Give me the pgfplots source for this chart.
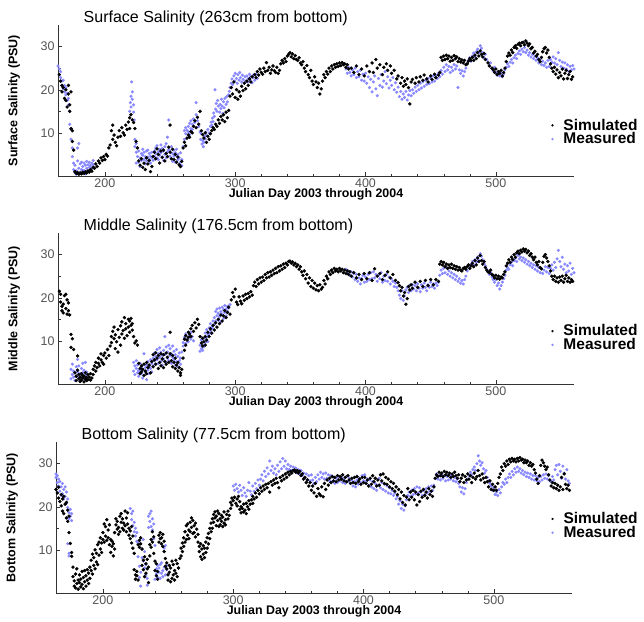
\documentclass[border=0pt]{standalone}
\usepackage{fontspec}
\setmainfont{Liberation Sans}
\usepackage{pgfplots}
\pgfplotsset{compat=1.18}
\definecolor{meas}{RGB}{136,136,255}
\definecolor{ticklab}{RGB}{85,85,85}

\pgfplotsset{salt/.style={
  scale only axis, width=516pt, height=151pt,
  xmin=164, xmax=560, ymin=0, ymax=35,
  axis lines*=left, axis line style={-, draw=black!80},
  xtick={200,300,400,500}, minor x tick num=4,
  ytick={10,20,30}, minor y tick num=1,
  tick align=inside, major tick length=4pt, minor tick length=2.5pt,
  every tick/.style={black!80},
  /pgf/number format/assume math mode=true,
  ticklabel style={font=\fontsize{12.5}{12.5}\selectfont, text=ticklab},
  xticklabel style={yshift=1pt},
  xlabel={Julian Day 2003 through 2004},
  xlabel style={font=\bfseries\fontsize{12.4}{12.4}\selectfont, at={(axis description cs:0.5,0)}, anchor=center, yshift=-18pt},
  ylabel style={font=\bfseries\fontsize{12.5}{12.5}\selectfont, at={(axis description cs:-0.085,0.5)}, anchor=center},
  legend style={draw=none, fill=none, font=\bfseries\fontsize{15.5}{15.5}\selectfont, anchor=west, row sep=-3pt, inner sep=0pt},
  legend cell align=left,
  legend image code/.code={\draw[#1, mark size=0.9pt] plot coordinates {(0pt,0pt)}; \path[draw=none,fill=none] (-1pt,-1pt) rectangle (9pt,1pt);},
  reverse legend,
  clip=false,
}}
\tikzset{ttl/.style={anchor=base west, font=\fontsize{16}{16}\selectfont, yshift=3pt}}

\begin{document}
\begin{tikzpicture}
\useasboundingbox (0,0) rectangle (644pt,-621pt);

% ---------- surface ----------
\begin{axis}[salt, at={(58pt,-176pt)}, anchor=south west,
  ylabel={Surface Salinity (PSU)},
  legend style={at={(rel axis cs:0.956,0.29)}}]
\addplot[only marks, mark=*, mark size=1.35pt, color=meas] coordinates {
(164,25.5)(165,24.8)(165,23.5)(166,24.2)(166,22.8)(167,22)(167,21)(168,20.2)(168,22.2)(169,19.5)(169,21)(170,18.8)(170,20.5)(171,19.2)(171,17.5)(172,18)(172,16.5)(173,15)(173,12)(174,10.8)(174,8.5)(175,6.5)(175,4.5)(176,3)(176,1.5)(177,0.8)(177,2.5)(178,1.2)(178,0.4)(179,3.5)(179,6.5)(180,1.8)(180,7.5)(181,0.9)(181,2.8)(182,1.5)(182,3.2)(183,0.7)(183,2.2)(184,1.3)(184,3)(185,0.5)(185,2.5)(186,1.8)(186,3.4)(187,1.1)(187,2.6)(188,2)(188,3.2)(189,1.4)(189,2.4)(190,3)(190,1.8)(191,2.6)(191,3.6)
(219,15)(219.5,17)(220,18.5)(220,16)(220.5,21.8)(221,19.5)(221,17.8)(222,16.5)(222,14.8)(222.5,13)(223,8.5)(223,6.8)(224,5.5)(224,7.5)(224,3)
(225,4.5)(226,3.2)(226,5.8)(227,4.2)(227,2.2)(228,5.2)(228,3.6)(229,4.8)(229,6.2)(230,3.8)(230,5.5)(231,4.5)(231,2.8)(232,5.8)(232,3.5)(233,4.4)(233,6)(234,3.8)(234,5.2)(235,4.6)(235,3)(236,5.5)(236,4.2)(237,3.6)
(238,5.8)(238,4.6)(239,6.5)(239,5.2)(240,4.2)(240,7)(241,5.6)(241,3.8)(242,6.2)(242,4.8)(243,5.4)(243,7.2)(244,4.4)(244,6.4)(245,5.8)(245,3.6)(246,6.8)(246,5)(247,4.2)(247,7.5)(248,5.6)(248,9)(249,13)(249,6.2)(250,4.6)(250,5.8)(251,6.8)(251,4)(252,5.2)(252,3.4)(253,6)(253,4.6)(254,5.4)(254,3.2)(255,4.8)(255,6.2)(256,3.8)(256,5)(257,4.2)(257,2.6)(258,3.2)(258,5.4)(259,2.4)(259,3.8)
(260,6.8)(261,8.5)(261,10.5)(262,9.8)(262,11.2)(263,10.6)(263,8.8)(264,11.5)(264,10.2)(265,12.2)(265,9.6)(266,11)(266,12.8)(267,10.8)(267,12)(268,11.6)(268,13.2)(269,12.4)(270,17)(270,14.2)(271,12.8)(272,11.5)(273,10.2)
(273.5,8.5)(274,9.8)(274.5,7.4)(275,8.2)(275.5,6.8)(276,7.8)(276.5,9.2)(277,8.6)(277.5,10.2)(278,9.4)(279,10.8)(280,10)(281,11.5)
(281.5,12.5)(282,11.8)(282.5,13.4)(283,12.6)(283.5,14.6)(284,13.8)(284.5,20)(285,15.5)(285.5,16.8)(286,15)(286.5,17.5)(287,16.2)(288,14.8)(288.5,16.6)(289,15.6)(289.5,17.8)(290,16.2)(290.5,14.5)(291,17.2)(291.5,15.8)(292,18)(293,16.6)(293.5,18.4)(294,17.2)(295,18.8)(295.5,19.6)(296,20.5)
(297,21.5)(297.5,22.5)(298,21.2)(299,23.2)(299.5,22)(300,23.8)(301,22.6)(301.5,21.5)(302,23.5)(303,22.2)(303.5,24)(304,22.8)(305,21.8)(305.5,23.4)(306,22.4)(307,21.6)(307.5,23)(308,22)(309,23.2)(309.5,21.8)(310,22.6)(311,23.6)(311.5,22.2)(312,23)(313,21.6)(313.5,22.8)(314,23.4)(315,22.2)(316,23.6)(317,22.6)
(385,24.8)(386,23.8)(387,25.2)(388,24)(389,23.2)(390,24.6)(391,23.5)(392,25)(393,22.8)(394,24.2)(395,23)(396,24.5)(397,22.2)(398,23.6)(399,22)(400,23.8)(401,21.5)(402,23)(403,20.5)(404,22.4)(405,19.5)(406,21.8)(407,23.2)(408,20.2)(409,18.6)(410,22.6)(411,21)(412,23.5)(413,20.6)(414,22)(415,24.2)(416,21.4)(417,23)(418,20.4)(419,22.2)(420,21)(421,22.8)(422,20)(423,21.6)(424,19.4)(425,20.6)
(426,18.4)(427,19.6)(428,17.8)(429,19)(430,18.2)(431,19.6)(432,17.6)(433,18.8)(434,19.8)(435,18.6)(436,20)
(437,19.2)(438,20.6)(439,19.6)(440,21)(441,20)(442,21.5)(443,20.4)(444,21.8)(445,20.8)(446,22.2)(447,21.2)(448,22.6)(449,21.4)(450,22.8)(451,21.8)(452,23.2)(453,22)(454,23.4)(455,22.6)(456,23.8)(457,23)
(458,24.5)(459,23.6)(460,25.2)(461,24.2)(462,25.8)(463,24.6)(464,25.4)(465,24)(466,25.2)(467,24.4)(468,25.8)(469,24.8)(470,25.5)(471,20.5)(472,24.6)(473,23.8)(474,24.4)(475,23.2)(476,24.2)(477,25)
(478,26)(479,26.8)(480,27.4)(481,26.6)(482,27.8)(483,28.5)(484,27.6)(485,28.8)(486,29.4)(487,28.6)(488,30.2)(489,29.6)(490,28.6)(491,27.4)(492,28.2)
(493,27)(494,26.4)(495,25.6)(496,26.2)(497,25)(498,24.4)(499,25.2)(500,24)(501,23.4)(502,24.2)(503,23.2)(504,23.8)(505,23)(506,23.6)(507,24.6)
(508,25.2)(509,26)(510,25.4)(511,26.4)(512,27)(513,26.2)(514,27.4)(515,28)(516,27.2)(517,28.4)(518,29)(519,28.2)(520,29.4)(521,28.8)(522,29.8)(523,28.6)(524,29.2)(525,28)(526,28.6)(527,27.6)(528,28.2)(529,27.2)
(530,27.8)(531,26.8)(532,27.4)(533,26.2)(534,27)(535,25.8)(536,26.6)(537,25.6)(538,26.2)(539,25.2)(540,26.8)(541,25.4)(542,27)(543,26.4)(544,27.6)(545,26.2)(546,27.2)(547,25.8)(548,28.6)(549,26.8)(550,25.4)(551,26.4)(552,25)(553,26.2)(554,24.8)(555,25.8)(556,24.2)(557,25.4)(558,24.6)(559,25.6)(560,24.8)
};
\addlegendentry{Measured}
\addplot[only marks, mark=*, mark size=1.5pt, color=black] coordinates {
(165,23.5)(166,22)(167,21)(167,19.5)(168,20.5)(169,18)(170,17.5)(170,20)(171,16)(172,21)(172,19)(173,16.5)(173,15)(174,19.5)(174,11)(175,10.5)(175,8)(176,6)
(177,1)(178,0.6)(179,0.8)(180,0.4)(181,0.7)(182,0.5)(183,0.9)(184,0.6)(185,1)(186,0.7)(187,1.2)(188,0.9)(189,1.5)(190,1.1)(191,2)(192,1.8)(193,2.8)(194,2.2)(195,3.5)(196,3)(197,4.2)(198,3.6)(199,4.5)(200,3.8)(201,5)(202,4.6)(203,6.5)(204,7.2)(205,10.5)(206,11.8)(206,8.5)(207,9.5)(208,7.8)(209,7)(210,9)(211,10.5)(212,9.2)(213,11.2)(214,10)(215,9.5)(216,11.8)(217,10.8)(218,12.5)(219,11)(219,13.5)(220,14.2)(221,13)(222,12.4)(223,11)(224,8)(225,6.5)
(226,3.5)(227,2.5)(228,4)(229,2)(230,3)(231,1.5)(232,4.2)(233,2.8)(234,3.6)(235,1)(236,2.2)(237,4.5)
(238,5.5)(239,4)(240,6.3)(241,5)(242,3)(243,5.8)(244,4.3)(245,6)(246,3.5)(247,5.2)(248,4.5)(249,6.7)(250,11.8)(250,5.5)(251,4)(252,6.2)(253,3.8)(254,5)(255,3.2)(256,4.4)(257,2.6)(258,2.2)(259,3.4)
(260,6.5)(261,7.8)(262,7)(263,8.8)(264,9.5)(265,9)(266,10.3)(267,10)(268,11.5)(269,12.8)(270,11.2)(271,13.6)(272,12)(273,15)
(274,10.5)(275,9.6)(276,8.8)(277,10)(278,7.8)(279,9.2)(280,8.5)(281,9.8)
(282,10.5)(283,11.2)(284,10.8)(285,12)(286,11.5)(287,13)(288,12.2)(289,13.8)(290,13)(291,14.2)(292,12.6)(293,14.8)(294,13.5)(295,15.2)(296,18.5)
(297,20.5)(298,19)(299,21.8)(300,18.2)(301,20)(302,17.8)(303,19.5)(304,18.5)(305,20.8)(306,19.8)(307,21.5)(308,20.2)(309,22)(310,21)(311,22.5)(312,21.8)(313,23)
(315,23.5)(316,22.8)(317,24.2)(318,23.4)(319,24.8)(320,24)(321,23.6)(322,25)(323,24.2)(324,26.3)(325,24.5)(326,25.2)(327,23.8)(328,24.6)(329,25.5)(330,24.4)(331,24)(332,25.2)(333,23.8)(334,24.5)(335,26)(336,26.8)(337,26.2)
(338,27.2)(339,26.5)(340,27.8)(341,28.2)(342,28.6)(343,27.6)(344,28.3)(345,27.2)(346,27.9)(347,27)(348,26.8)(349,27.4)(350,26.2)
(351,25.8)(352,26.5)(353,25)(354,24.2)(355,25.6)(356,23.5)(357,22.8)(358,24.5)(359,22)(360,21.2)(361,23)(362,21.8)(363,20.5)(364,21.5)(365,19)(366,20.2)
(367,22)(368,23.5)(369,22.8)(370,24.2)(371,23.6)(372,25)(373,24.2)(374,25.5)(375,24.8)(376,25.8)(377,25.2)(378,26)(379,25.4)(380,26.2)(381,25.6)(382,26.3)(383,25.8)(384,26)(385,25.2)(386,25.8)(387,24.8)
(389,25)(391,24)(393,25.5)(395,23.5)(397,24.8)(399,23.2)(401,25.5)(403,24.2)(405,26.2)(406,24)(408,27)(409,25)(411,25.8)(413,23.5)(414,25.2)(416,26)(417,24.5)(419,25.5)(420,23.8)(422,24.5)(424,22.5)(425,23.2)
(427,21.5)(428,22.8)(429,20.8)(430,22)(431,21.2)(432,22.5)(433,20.5)(434,16.7)(435,21.8)(436,22.4)
(438,21.5)(439,22.8)(441,21.8)(442,23)(444,22.2)(445,23.4)(447,22.5)(448,21.8)(450,23.2)(451,22.4)(453,23.6)(454,22.8)(456,23.4)(457,24)
(458,27.5)(459,26.8)(460,27.8)(461,27)(462,28)(463,27.2)(464,27.8)(465,26.6)(466,27.5)(467,26.8)(468,27.9)(469,27.2)(470,27.6)(471,26.5)(472,27.2)(473,26.4)(474,26.9)(475,26.2)(476,26.8)(477,25.8)(478,26)(479,26.6)(480,27.2)(481,26.8)
(482,27.5)(483,26.8)(484,28)(485,27.2)(486,28.6)(487,27.8)(488,29)(489,28.2)(490,27.6)(491,28.4)(492,27)
(494,26.2)(495,25.5)(497,25)(498,24.6)(499,24)(500,24.8)(501,23.5)(502,24.2)(503,23.8)(504,24.5)(505,23.2)(506,24)(507,25)
(508,26.5)(509,27.8)(510,28.5)(511,28)(512,29.2)(513,28.6)(514,29.8)(515,30.2)(516,29.6)(517,30.5)(518,30.8)(519,30.2)(520,30.9)(521,31)(522,30.4)(523,31.3)(524,30.8)(525,30.2)(526,30.6)(527,29.5)(528,29.8)
(529,28.5)(530,28.9)(531,27.8)(532,28.2)(533,27)(534,26.5)(535,27.5)(536,28.8)(537,29.5)(538,29.8)(539,28.5)(540,29.2)(541,27.5)(542,26)
(543,25)(544,24.2)(545,25.2)(546,23.6)(547,24.6)(548,22.8)(549,24)(550,23.2)(551,24.8)(552,22.5)(553,23.8)(554,24.5)(555,22.6)(556,23.5)(557,24.2)(558,22.4)(559,23)
};
\addlegendentry{Simulated}
\node[ttl] at (rel axis cs:0.043,1) {Surface Salinity (263cm from bottom)};
\end{axis}

% ---------- middle ----------
\begin{axis}[salt, at={(58pt,-384pt)}, anchor=south west,
  ylabel={Middle Salinity (PSU)},
  legend style={at={(rel axis cs:0.956,0.305)}}]
\addplot[only marks, mark=*, mark size=1.35pt, color=meas] coordinates {
(174,1.2)(174,3.4)(175,2.2)(175,4.6)(176,1.6)(176,3)(177,0.8)(177,2.6)(178,4)(178,1.8)(179,5.7)(179,2.8)(180,1.4)(180,4.2)(181,2.4)(181,0.7)(182,3.6)(182,1.8)(183,4.8)(183,2.6)(184,1.2)(184,3.2)(185,2)(185,5)(186,1.6)(186,2.8)
(222,3)(222,5)(223,4.2)(223,2.2)(224,3.6)(224,5.4)(225,2.6)(225,4.4)(226,3.2)(226,1.8)(227,4.8)(227,3)(228,2.4)(228,4)(229,3.4)(229,1.4)(230,7)(230,4.6)(231,2.8)(231,3.8)(232,1)(232,4.4)(233,3.2)(233,5.2)(234,2.4)(234,4)(235,3.6)(235,5.6)(236,4.8)(236,2.8)(237,4.2)(237,6)(238,5.4)(238,7.2)(239,4.6)(239,6.4)(240,8)(240,5.6)(241,7)(241,4.8)(242,6.2)(242,8.4)(243,5.2)(243,7.4)(244,6.6)(244,4.4)(245,7.8)(245,5.8)(246,11)(246,6.8)(247,5)(247,8.6)(248,6)(248,7.4)(249,9)(249,5.4)(250,6.6)(250,8.2)(251,4.8)(251,7)(252,6.2)(252,8.8)(253,5.6)(253,7.6)(254,4.4)(254,6.8)(255,5.2)(255,8)(256,4)(256,6.4)(257,5.4)(257,7.2)(258,4.6)(258,6)(259,7.4)(260,8.8)
(260,9.6)(261,10.8)(262,9.4)(262,11.6)(263,10.2)(264,12)(264,9.8)(265,11.2)(266,10.4)(266,12)(267,11)(268,10)
(273,7.6)(273,9)(274,8.2)(274,10.2)(275,9)(275,7.8)(276,10.6)(276,8.6)(277,11.8)(277,9.6)(278,10.8)(278,12.6)(279,11.4)(279,9.8)(280,13)(280,11.6)(281,12.4)(281,14)(282,13.2)(282,11.8)(283,14.6)(283,12.8)(284,15.4)(284,13.8)(285,16.8)(285,14.6)(286,15.8)(286,17.4)(287,14.8)(287,16.4)(288,17.6)(288,15.6)(289,16.8)(289,14.4)(290,17.8)(290,16.2)(291,15.2)(291,17.2)(292,16.6)(292,18.2)(293,17.4)(293,15.8)(294,18)(294,16.8)(295,17.6)(296,18.4)
(385,26.6)(386,25.6)(387,26.2)(388,25.2)(389,26)(390,24.8)(391,25.6)(392,24.2)(393,25.4)(394,23.8)(395,24.6)(396,23.2)(397,24.4)(398,25.2)(399,23.6)(400,24.8)(401,23.8)(402,25.4)(403,24.2)(404,25.8)(405,24.4)(406,26)(407,24.6)(408,25.4)(409,23.8)(410,25.2)(411,24.4)(412,25.8)(413,23.6)(414,25)(415,24)(416,25.4)(417,23.8)(418,24.8)(419,23.2)(420,24.4)(421,23.8)(422,22.6)(423,23.4)(424,22.4)(425,21.6)
(426,20.6)(427,19.8)(428,21.6)(429,19.4)(430,20.4)(431,21.8)(432,22.4)(433,21.2)(434,22.8)(435,21.6)(436,23)(437,22)(438,22.8)(439,21.6)(440,23.2)(441,22.2)(442,21.4)(443,23)(444,22.2)(445,23.4)(446,22.4)(447,21.6)(448,23)(449,22.4)(450,23.6)(451,22.6)(452,23.2)(453,22.2)(454,23.4)(455,22.8)(456,23.6)
(457,25.2)(458,26.4)(459,25.6)(460,26.8)(461,25.8)(462,27)(463,25.4)(464,26.2)(465,25)(466,25.8)(467,24.6)(468,25.4)(469,24.2)(470,25)(471,23.8)(472,24.4)(473,23.4)(474,24)(475,23.2)(476,24.2)(477,25)
(478,26.2)(479,27.4)(480,26.8)(481,27.8)(482,28.4)(483,27.6)(484,28.8)(485,28.2)(486,29.4)(487,28.6)(488,30.2)(489,29.6)(490,28.8)(491,28)(492,27.4)(493,26.6)(494,26)(495,25.4)(496,25.8)(497,24.8)(498,24.2)(499,23.6)(500,24.2)(501,22.8)(502,23.4)(503,22)(504,22.8)(505,23.6)(506,24.4)(507,25.2)
(508,26.4)(509,27)(510,26.6)(511,27.6)(512,28.2)(513,27.4)(514,28.6)(515,29.2)(516,28.4)(517,29.8)(518,29)(519,29.4)(520,28.6)(521,29.2)(522,28.2)(523,28.8)(524,27.8)(525,28.4)(526,27.4)(527,28)(528,27)
(529,27.6)(530,26.6)(531,27.4)(532,26.2)(533,27)(534,25.8)(535,26.8)(536,25.6)(537,26.4)(538,27.2)(539,26)(540,27)(541,25.6)(542,26.8)(543,27.6)(544,26.4)(545,28.2)(546,27)(547,29)(548,31)(549,28.4)(550,27.2)(551,29.4)(552,26.6)(553,27.8)(554,25.8)(555,27.4)(556,26.2)(557,28)(558,25.4)(559,26.8)(560,25.8)
};
\addlegendentry{Measured}
\addplot[only marks, mark=*, mark size=1.5pt, color=black] coordinates {
(165,21.5)(166,20.8)(166,19)(167,18)(167,17)(168,16.5)(168,18.5)(169,20.5)(170,20.8)(170,17.5)(171,19.5)(171,16.2)(172,17)(172,18.8)(173,16)(174,11.5)(174,8.5)(175,10.5)(176,8)(177,2.6)(178,1.8)(178,0.8)(179,6.5)(179,3.2)(180,1.2)(180,2.2)(181,0.6)(181,1.6)(182,2.4)(182,0.9)(183,1.4)(183,2)(184,0.5)(184,1.8)(185,1.1)(185,2.6)(186,0.8)(186,1.5)(187,2.2)(187,1)(188,1.6)(189,0.9)(189,2.4)(190,1.4)(191,3.4)(191,2.2)(192,4.2)(193,3)(193,5)(194,3.8)(195,4.8)(195,6)(196,4.2)(197,5.6)(197,7)(198,5)(199,6.6)(199,4.6)(200,7.2)(201,6)(202,8)(203,6.6)(204,8.8)(205,11)(205,9.6)(206,12.2)(207,10.5)(207,13.2)(208,11.4)(208,8.2)(209,9.8)(210,7.4)(210,12.6)(211,10.8)(212,13.5)(212,9)(213,11.6)(213,14.4)(214,12.4)(215,15.4)(215,10.6)(216,12.8)(216,14)(217,11.2)(218,15)(218,13.2)(219,12)(219,14.6)(220,13.6)(220,15.2)(221,12.5)(221,14)(222,11)(223,9.5)(224,10)(225,9)
(226,4.8)(227,3.6)(227,2.4)(228,4.2)(228,2.8)(229,3.4)(230,2)(230,4.6)(231,3)(232,5)(232,2.4)(233,3.8)(234,4.4)(235,2.6)(236,5.2)(237,6.8)(237,4)(238,5.6)(239,7.2)(239,4.6)(240,6)(241,3.6)(241,6.6)(242,5)(243,7)(243,4.2)(244,5.8)(245,6.8)(245,3.8)(246,5.2)(247,7.2)(247,4.6)(248,6.2)(249,5)(250,12)(250,7)(251,5.4)(252,4)(252,6.6)(253,5)(254,3.6)(254,6)(255,4.4)(256,3)(256,5)(257,3.8)(258,2.6)(258,2)(259,3.4)
(260,6)(261,7.8)(261,10.4)(262,9)(262,11.2)(263,10.2)(264,12)(264,10.8)(265,11.6)(266,12.8)(266,11)(267,13.6)(268,12.2)(269,14.2)(270,13)(271,15)(272,13.8)(273,11)(274,9.5)(275,10.6)(275,8.8)(276,9.8)(277,11)(277,9)(278,10.2)(279,12)(280,11)(281,12.8)(282,11.8)(283,13.6)(284,12.5)(285,14.2)(286,13.2)(287,15)(288,14)(289,16)(290,14.6)(291,15.8)(292,17)(293,15.4)(294,16.6)(295,17.8)(296,16.2)
(297,19.5)(298,21.2)(299,20.2)(300,22)(301,19)(302,18.4)(303,20.2)(304,19.2)(305,18.6)(306,20.4)(307,19.4)(308,20.8)(309,19.8)(310,21)(311,20.2)(312,21.4)(313,20.6)(314,22.8)(315,23.6)(316,22.6)(317,24.2)(318,23.2)(319,24.6)(320,23.6)(321,24.8)(322,24)(323,25.4)(324,24.6)(325,25.8)(326,24.8)(327,26)(328,25.2)(329,26.4)(330,25.6)(331,26.8)(332,25.8)(333,27.2)(334,26.2)(335,27.4)(336,26.6)(337,27.8)(338,27)(339,28)(340,27.6)(341,28.4)(342,28.5)(343,28)(344,28.3)(345,27.6)(346,28)(347,27.2)(348,27.6)(349,26.6)(350,27.2)
(351,26)(352,25.2)(353,26.2)(354,24.4)(355,25.4)(356,23.4)(357,24.6)(358,22.6)(359,24)(360,22.2)(361,23.4)(362,21.8)(363,22.8)(364,21.6)(365,23)(366,22)(367,22.4)(368,24)(369,23.2)(370,25)(371,24.4)(372,26)(373,25.4)(374,26.4)(375,25.8)(376,26.8)(377,26.2)(378,26.6)(379,26)(380,26.8)(381,26.2)(382,26.6)(383,25.8)(384,26.4)(385,25.6)(386,26.2)(387,25.4)(388,26)(389,25)
(391,25.8)(393,24.6)(395,25.4)(397,24.2)(399,25.6)(401,24.4)(403,25.8)(405,24)(407,26.7)(409,25)(411,25.6)(413,24.2)(415,25.2)(417,26)(419,24.6)(421,25.4)(423,24)(425,23.5)(426,22.8)(427,21.6)(428,22.4)(429,20.4)(430,21.2)(431,18.5)(432,19.8)(433,22.6)(434,21.8)(435,23)(436,22.2)(438,23.6)(440,22.4)(442,23.8)(444,22.6)(446,24)(448,22.8)(450,24.2)(452,23)(454,24.2)(456,23.8)
(457,27.8)(458,28.4)(459,27.6)(460,28.2)(461,27.2)(462,27.8)(463,26.8)(464,27.6)(465,27)(466,27.8)(467,26.8)(468,27.4)(469,26.6)(470,27.2)(471,26.4)(472,27)(473,26.4)(474,26.2)(475,26.8)(476,27)(477,26.6)(478,27.2)(479,27.6)(480,26.8)(481,27.4)(482,28)(483,27.2)(484,28.6)(485,27.6)(486,29.2)(487,28.4)(488,29.8)(489,28.6)(490,27.8)(491,28.4)(492,27)
(493,26.4)(494,26)(495,25.8)(496,26.4)(497,25.4)(498,25.2)(499,24.6)(500,25.2)(501,24.4)(502,25)(503,24.3)(504,24.8)(505,24.6)(506,25.4)(507,26)
(508,27.4)(509,28)(510,28.8)(511,28.2)(512,29.4)(513,28.8)(514,30)(515,29.4)(516,30.4)(517,30.8)(518,30.2)(519,31)(520,30.6)(521,31.3)(522,30.8)(523,31.2)(524,30.4)(525,30.8)(526,29.8)(527,30.2)(528,29.4)(529,28.8)(530,29.4)(531,28.2)(532,27.6)(533,28.4)(534,27)(535,26.7)(536,28.2)(537,29.6)(538,30)(539,29.2)(540,28.4)(541,27.4)(542,26.2)
(543,25)(544,24.2)(545,25)(546,23.8)(547,24.6)(548,23.6)(549,24.8)(550,24)(551,25)(552,23.6)(553,24.4)(554,25.2)(555,23.8)(556,24.6)(557,23.6)(558,24.2)(559,23.8)
};
\addlegendentry{Simulated}
\node[ttl] at (rel axis cs:0.043,1) {Middle Salinity (176.5cm from bottom)};
\end{axis}

% ---------- bottom ----------
\begin{axis}[salt, at={(56pt,-593pt)}, anchor=south west,
  ylabel={Bottom Salinity (PSU)},
  legend style={at={(rel axis cs:0.96,0.445)}}]
\addplot[only marks, mark=*, mark size=1.35pt, color=meas] coordinates {
(164,27.6)(164,26.8)(165,27.2)(165,25.6)(166,26.4)(166,24.8)(167,25.8)(167,23.6)(168,24.6)(168,22.6)(169,25.4)(169,23)(170,24)(170,21.8)(171,24.6)(171,22.4)(172,20.8)(172,23.4)(173,19.8)(173,21.8)(174,18.6)(174,17.2)(175,19.4)(175,17.8)(176,18.4)(176,16.8)(173,11.4)(174,9.2)(174,8.6)
(221,19.6)(222,18.4)(222,17)(223,19)(223,15.6)(224,16.4)(224,14.2)(225,13.2)(225,15)(226,12)(226,14)(227,11.6)(227,8.4)(228,6.2)(228,3.6)(229,1.6)(229,4.8)(230,8.2)(230,10.2)(231,12.4)(231,7.4)(232,9.6)(232,5.8)(233,6.6)(233,4.2)(234,1.8)(234,3.4)(235,15.2)(235,17.8)(236,18.4)(236,16.6)(237,19)(237,15.4)(238,17.2)(238,14.6)(239,16)(239,12.6)(240,11)(240,3.2)(241,4.4)(241,5.6)(242,3.6)(242,6.4)(243,4.8)(243,5.8)(244,3.4)(244,6.6)(245,4.6)(245,7)(246,5.2)(246,3.8)(247,6)(247,10.4)(248,11)(248,4.2)(249,5.4)(249,6.4)(250,4.4)
(300,24.8)(301,23.8)(302,25.2)(303,24.2)(304,23.4)(305,25)(306,23.8)(307,22.6)(308,24.4)(309,23.2)(310,22.4)(311,23.8)(312,25.6)(313,23.6)(314,22.8)(315,24.8)(316,23.6)(317,25.4)(318,24.2)(319,26.2)(320,25)(321,26.4)(322,27.4)(323,26)(324,28.2)(325,27)(326,29)(327,27.6)(328,30.6)(329,28.4)(330,29.4)(331,27.8)(332,28.8)(333,27.4)(334,29.6)(335,28.2)(336,30.4)(337,28.8)(338,31.2)(339,29.4)(340,30.6)(341,28.8)(342,29.8)(343,28.6)(344,29.4)(345,28.4)(346,29.2)(347,28.2)(348,29)(349,27.8)(350,28.6)
(351,27.6)(352,28.4)(353,27.2)(354,27.8)(355,26.6)(356,27.6)(357,26.2)(358,27.2)(359,26)(360,27.4)(361,26.2)(362,25.4)(363,26.8)(364,25.8)(365,27.4)(366,26.4)(367,28)(368,26.8)(369,27.6)(370,26.4)(371,27.8)(372,26.6)(373,27.4)(374,26)(375,27.2)(376,25.8)(377,26.8)(378,25.4)(379,26.6)(380,25.6)(381,27)(382,26)(383,26.8)(384,25.6)(385,26.4)(386,25.4)(387,27)(388,25.8)(389,26.6)(390,25.4)(391,26.2)(392,24.8)(393,25.8)(394,24.6)(395,26.2)(396,25.2)(397,26.6)(398,25.6)(399,27.2)(400,26)(401,27.4)(402,25.8)(403,26.4)
(404,25)(405,26.2)(406,24.6)(407,25.8)(408,24.2)(409,25.4)(410,23.8)(411,25)(412,26.6)(413,24.4)(414,25.6)(415,24)(416,25.2)(417,23.6)(418,24.8)(419,23.2)(420,24.4)(421,23)(422,23.8)(423,22.6)(424,23.2)(425,21.8)(426,22.4)(427,20.6)(428,21.4)(429,19.6)(430,20.6)(431,19.2)(432,20.2)(433,21.6)(434,22.6)(435,23.4)(436,22.4)(437,23.8)(438,22.8)(439,24.2)(440,23)(441,24.6)(442,23.2)(443,24.4)(444,23.4)(445,22.6)(446,23.8)(447,22.8)(448,24.2)(449,23.2)(450,24.6)(451,23.6)(452,24.8)(453,23.8)(454,25)
(455,26.6)(456,27.6)(457,26.4)(458,27.2)(459,26.2)(460,27.6)(461,26.6)(462,27.2)(463,26)(464,27)(465,26.2)(466,27.4)(467,26.4)(468,27.2)(469,26)(470,26.8)(471,25.8)(472,26.4)(473,25.4)(474,24.6)(475,23.4)(476,24.4)(477,23)(478,24.2)(479,25.6)(480,26.4)(481,27.2)(482,28)(483,27.4)(484,28.6)(485,29.2)(486,28.4)(487,30)(488,31.8)(489,30.6)(490,29.6)(491,30.2)(492,28.8)(493,27.8)(494,28.4)(495,26.8)(496,26)(497,25.4)(498,24.8)(499,23.8)(500,24.4)(501,22.8)(502,23.4)(503,22.6)(504,24)(505,23.2)(506,24.6)(507,25.6)
(508,25.2)(509,26.4)(510,25.6)(511,26.8)(512,27.6)(513,26.8)(514,28.2)(515,27.4)(516,28.8)(517,28)(518,29.2)(519,28.2)(520,28.8)(521,27.8)(522,28.4)(523,27.4)(524,28)(525,27)(526,27.8)(527,26.8)(528,27.6)(529,26.4)(530,27.2)(531,26.2)(532,27.2)(533,26)(534,26.8)(535,25.8)(536,27)(537,26.2)(538,27.4)(539,26.6)(540,27.6)(541,26.4)(542,27.2)(543,26)(544,25.8)(545,27)(546,26.2)(547,28.6)(548,29.6)(549,27.4)(550,29.8)(551,28.2)(552,26.6)(553,29.4)(554,27.8)(555,26.4)(556,28.6)(557,26)(558,25.4)
};
\addlegendentry{Measured}
\addplot[only marks, mark=*, mark size=1.5pt, color=black] coordinates {
(164,24)(165,23.2)(166,22)(166,24.5)(167,21.2)(168,22.8)(168,20.2)(169,19)(169,21.8)(170,22.4)(170,18.4)(171,20.6)(172,21)(172,17.4)(173,16.6)(173,19.2)(174,17.8)(174,14)(175,11.5)(176,9.4)(176,8.5)(177,6)(177,3.8)(178,1.6)(178,2.8)(179,4.4)(179,1.2)(180,2.2)(180,5.6)(181,3)(181,0.9)(182,2.4)(182,4.2)(183,1.4)(183,3.2)(184,5)(184,2)(185,1)(185,3.6)(186,2.6)(186,5.2)(187,4)(187,1.6)(188,3)(188,5.4)(189,2.2)(189,4.6)(190,6)(190,3.4)(191,5.2)(191,7.6)(192,4.4)(192,9)(193,6.4)(193,8.2)(194,5.6)(194,10)(195,7.2)(195,9.2)(196,11.2)(196,6.6)(197,8.8)(197,11.8)(198,10.2)(198,12.8)(199,9.4)(199,11.6)(200,12.4)(200,14)
(201,11.8)(201,16)(202,13.2)(202,15.4)(203,12.2)(203,17)(204,14.6)(204,12.8)(205,11.2)(205,15.8)(206,12.4)(206,9.4)(207,10.8)(207,12)(208,8.6)(208,11.4)(209,14)(209,10.2)(210,15.8)(210,17.2)(211,14.8)(211,16.6)(212,13.6)(212,15.2)(213,17.8)(213,14.2)(214,16.4)(214,18.4)(215,15)(215,17.2)(216,14.6)(216,16.2)(217,19)(217,15.6)(218,17.4)(218,14.2)(219,18.6)(219,16)(220,13.4)(220,15)(221,14.4)(221,12.6)(222,15.4)(222,11.6)(223,13.2)(223,10.4)(224,9.2)(224,5.4)(225,4.2)(225,3.2)(226,5)(226,4)(227,3)(227,11.2)(228,12.2)(228,10.6)(229,12.8)(229,11.4)(230,10.2)(230,6.4)(231,7.6)(231,5.4)(232,8.4)(232,3.8)(233,6.8)(233,4.6)(234,7.8)(234,5.6)(235,2.4)(235,6)(236,8.6)(236,11.2)(237,12.4)(237,10.6)(238,14.2)(238,11.8)(239,13)(239,9.2)(240,7.4)(240,5.2)(241,4)(241,6.8)(242,5)(242,3.2)
(243,11.8)(243,13.4)(244,12.6)(244,14)(245,11.4)(245,12.8)(246,13.6)(246,10.8)(247,12)(247,9.6)(248,8)(248,6.2)(249,5.6)(249,7)(250,4.2)(250,3)(251,6.4)(251,4.8)(252,2.6)(252,5.8)(253,3.4)(253,7.4)(254,4.2)(254,6.6)(255,3)(255,5.2)(256,7.6)(256,4.6)(257,6.8)(257,3.8)(258,5.8)(259,8)(260,10.4)(260,8.6)(261,11.6)(261,9.6)(262,12.8)(262,10.8)(263,14.2)(263,11.8)(264,12.4)(264,15.6)(265,13.4)(265,16)(266,14.6)(266,12.6)(267,16.4)(267,14.2)(268,17.4)(268,15.2)(269,13.8)(269,16.8)(270,15.6)(270,14)(271,16.2)(271,13)(272,14.8)
(273,11.8)(273,13.6)(274,10.8)(274,9.6)(275,11.4)(275,8.4)(276,10.2)(276,7.8)(277,9)(277,11)(278,8.2)(278,10.4)(279,11.8)(279,9.4)(280,12.8)(280,10.4)(281,13.8)(281,11.4)(282,15)(282,12.6)(283,16.2)(283,14.2)(284,17.2)(284,15)(285,18.2)(285,16.4)(286,17.4)(286,18.8)(287,15.6)(287,17.8)(288,19)(288,16.8)(289,18.4)(289,15.4)(290,17.2)(290,15.8)(291,16.6)(291,18)(292,15.4)(292,17.6)(293,16.2)(293,18.8)(294,17)(294,15.8)(295,18.2)(296,17.2)(296,19)(297,18)
(298,21)(298,19.6)(299,22)(299,20.4)(300,21.4)(301,22.2)(302,20.8)(303,21.8)(303,20.2)(304,22.4)(305,19.4)(305,21.2)(306,20)(306,18.6)(307,19.6)(308,18.8)(308,20.6)(309,19.2)(310,20.8)(310,18.4)(311,20)(312,21.4)(312,19.4)(313,20.6)(314,21.6)(315,22.4)(315,20.8)(316,21.8)(317,23.2)(318,22.2)(319,23.8)(320,23)(321,24.4)(322,23.6)(323,24.8)(324,24)(325,25.2)(326,24.4)(327,25.4)(328,23.4)(329,25.8)(330,25)(331,26.2)(332,25.4)(333,26.6)(334,25.6)(335,24.4)(336,26.8)(337,26)(338,27.2)(339,26.4)(340,27.6)(341,26.8)(342,28)(343,27.4)(344,28.2)(345,27.8)(346,28.4)(347,28.5)(348,28)(349,28.4)(350,27.8)
(351,28.2)(352,27.2)(353,27.6)(354,26.4)(355,26.8)(356,25.6)(357,26.2)(358,24.8)(359,25.6)(360,23.8)(361,24.8)(362,23.2)(363,25.4)(364,22.4)(365,24.2)(366,23)(367,22.6)(368,24.6)(369,22.3)(370,25.4)(371,24)(372,26.2)(373,25)(374,26.6)(375,25.6)(376,27)(377,26)(378,26.8)(379,25.8)(380,27.2)(381,26.2)(382,27)(383,26.4)(384,27.4)(385,26)(386,26.8)(387,25.8)(388,27.2)(389,26.2)(390,25.4)(391,26.6)(392,25.6)(393,26.8)(394,25.4)(395,27)(396,25.8)(397,26.4)(398,25.2)(399,26.8)(400,25.6)(401,26.8)(402,25.4)(403,26.2)
(404,24.8)(405,26.6)(406,25.2)(407,27.2)(408,25.8)(409,26.6)(410,24.8)(411,26.2)(412,25)(413,27.4)(414,26)(415,27.6)(416,25.4)(417,26.8)(418,25.2)(419,26.4)(420,24.6)(421,25.8)(422,24.2)(423,25.4)(424,23.6)(425,24.6)(426,22.8)(427,24)(428,21.8)(429,23.4)(430,21)(431,22.6)(432,20.4)(433,22.2)(434,24.2)(435,21.6)(436,23.4)(437,22.2)(438,23.8)(439,21.6)(440,23.4)(441,20.4)(442,22.8)(443,21.2)(444,23.6)(445,22.2)(446,24)(447,22.6)(448,23.4)(449,22)(450,24.2)(451,22.8)(452,23.6)(453,22.4)(454,24.6)
(455,26.6)(456,27.4)(457,27)(458,28)(459,27.2)(460,27.8)(461,27)(462,28.2)(463,27.4)(464,28)(465,27.2)(466,27.8)(467,26.8)(468,27.6)(469,27)(470,28)(471,27.2)(472,26.6)(473,27.4)(474,25.8)(475,26.6)(476,27.4)(477,25.6)(478,27)(479,26.2)(480,27.6)(481,26.4)(482,27.2)(483,25.6)(484,26.8)(485,27.8)(486,26.4)(487,27)(488,28.4)(489,27.2)(490,26.2)(491,27.6)(492,26.6)(493,25.6)(494,26.8)(495,25.8)(496,24.6)(497,26)(498,24)(499,25.2)(500,23.8)(501,24.6)(502,23.8)(503,25.4)(504,26.8)(505,27.6)
(506,29.2)(507,28.4)(508,30)(509,29.4)(510,30.6)(511,29.8)(512,31)(513,30.4)(514,31.2)(515,30.6)(516,31)(517,30.4)(518,31.2)(519,30.6)(520,31.4)(521,30.8)(522,31)(523,30.2)(524,30.8)(525,30.2)(526,30.6)(527,29.6)(528,30.2)(529,29.4)(530,29.8)(531,28.6)(532,27.8)(533,26.4)(534,25.4)(535,27.2)(536,29.6)(537,30.8)(538,30.2)(539,29.4)(540,28.6)(541,29.2)(542,27.4)
(543,26.2)(544,24.8)(545,25.6)(546,24.4)(547,25.4)(548,24.2)(549,25)(550,23.8)(551,24.6)(552,26.8)(553,24)(554,27.6)(555,25.2)(556,24.2)(557,25)(558,23.8)
};
\addlegendentry{Simulated}
\node[ttl] at (rel axis cs:0.043,1) {Bottom Salinity (77.5cm from bottom)};
\end{axis}
\end{tikzpicture}
\end{document}
